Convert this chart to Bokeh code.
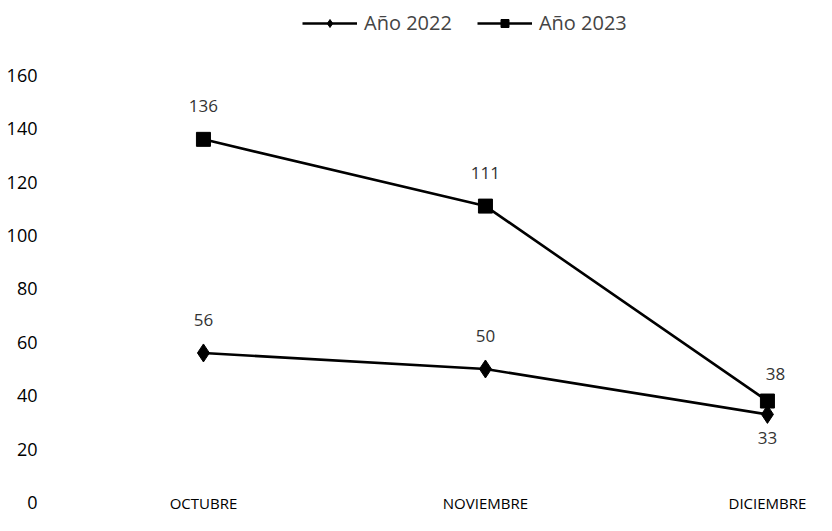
from bokeh.plotting import figure
from bokeh.models import ColumnDataSource, FixedTicker, Legend, LegendItem
from bokeh.core.properties import value
from bokeh.embed import file_html
from bokeh.resources import INLINE

months = ["OCTUBRE", "NOVIEMBRE", "DICIEMBRE"]
y2022 = [56, 50, 33]
y2023 = [136, 111, 38]
y_ticks = [0, 20, 40, 60, 80, 100, 120, 140, 160]

FONT = "Open Sans"
xs = list(range(len(months)))

p = figure(width=816, height=515, output_backend="svg", toolbar_location=None,
           x_range=(-0.553, 2.174), y_range=(0, 188),
           min_border_left=47, min_border_right=0, min_border_top=0, min_border_bottom=0)
p.outline_line_color = None
p.grid.visible = False
p.background_fill_color = "white"
p.border_fill_color = "white"

src22 = ColumnDataSource(dict(x=xs, y=y2022, t=[str(v) for v in y2022],
                              dx=[0, 0, 0], dy=[-33, -33, 24]))
src23 = ColumnDataSource(dict(x=xs, y=y2023, t=[str(v) for v in y2023],
                              dx=[0, 0, 8], dy=[-33, -33, -27]))

l22 = p.line("x", "y", source=src22, line_color="black", line_width=2.6)
m22 = p.scatter("x", "y", source=src22, marker="diamond", size=18,
                fill_color="black", line_color="black")
l23 = p.line("x", "y", source=src23, line_color="black", line_width=2.6)
m23 = p.scatter("x", "y", source=src23, marker="square", size=14,
                fill_color="black", line_color="black")

for s in (src22, src23):
    p.text("x", "y", text="t", source=s, x_offset="dx", y_offset="dy",
           text_align="center", text_baseline="middle",
           text_font=value(FONT), text_font_size="17px", text_color="#333333")

for ax in (p.xaxis[0], p.yaxis[0]):
    ax.axis_line_color = None
    ax.major_tick_line_color = None
    ax.minor_tick_line_color = None
    ax.major_tick_out = 0
    ax.major_tick_in = 0
    ax.minor_tick_out = 0
    ax.minor_tick_in = 0
    ax.axis_label = None
    ax.axis_label_standoff = 0
    ax.major_label_text_font = FONT
    ax.major_label_text_color = "black"

p.yaxis.ticker = FixedTicker(ticks=y_ticks)
p.yaxis.major_label_text_font_size = "18px"
p.yaxis.major_label_standoff = 10

p.xaxis.ticker = FixedTicker(ticks=xs)
p.xaxis.major_label_overrides = {i: m for i, m in enumerate(months)}
p.xaxis.major_label_text_font_size = "15px"
p.xaxis.major_label_standoff = -10

legend = Legend(items=[LegendItem(label="Año 2022", renderers=[l22, m22]),
                       LegendItem(label="Año 2023", renderers=[l23, m23])],
                orientation="horizontal", location=(255, 466),
                glyph_width=55, glyph_height=20, label_height=20,
                label_standoff=7, spacing=25, padding=0, margin=0,
                border_line_color=None, background_fill_alpha=0,
                label_text_font=FONT, label_text_font_size="20px")
p.add_layout(legend)

open("out.html", "w").write(file_html(p, INLINE))
